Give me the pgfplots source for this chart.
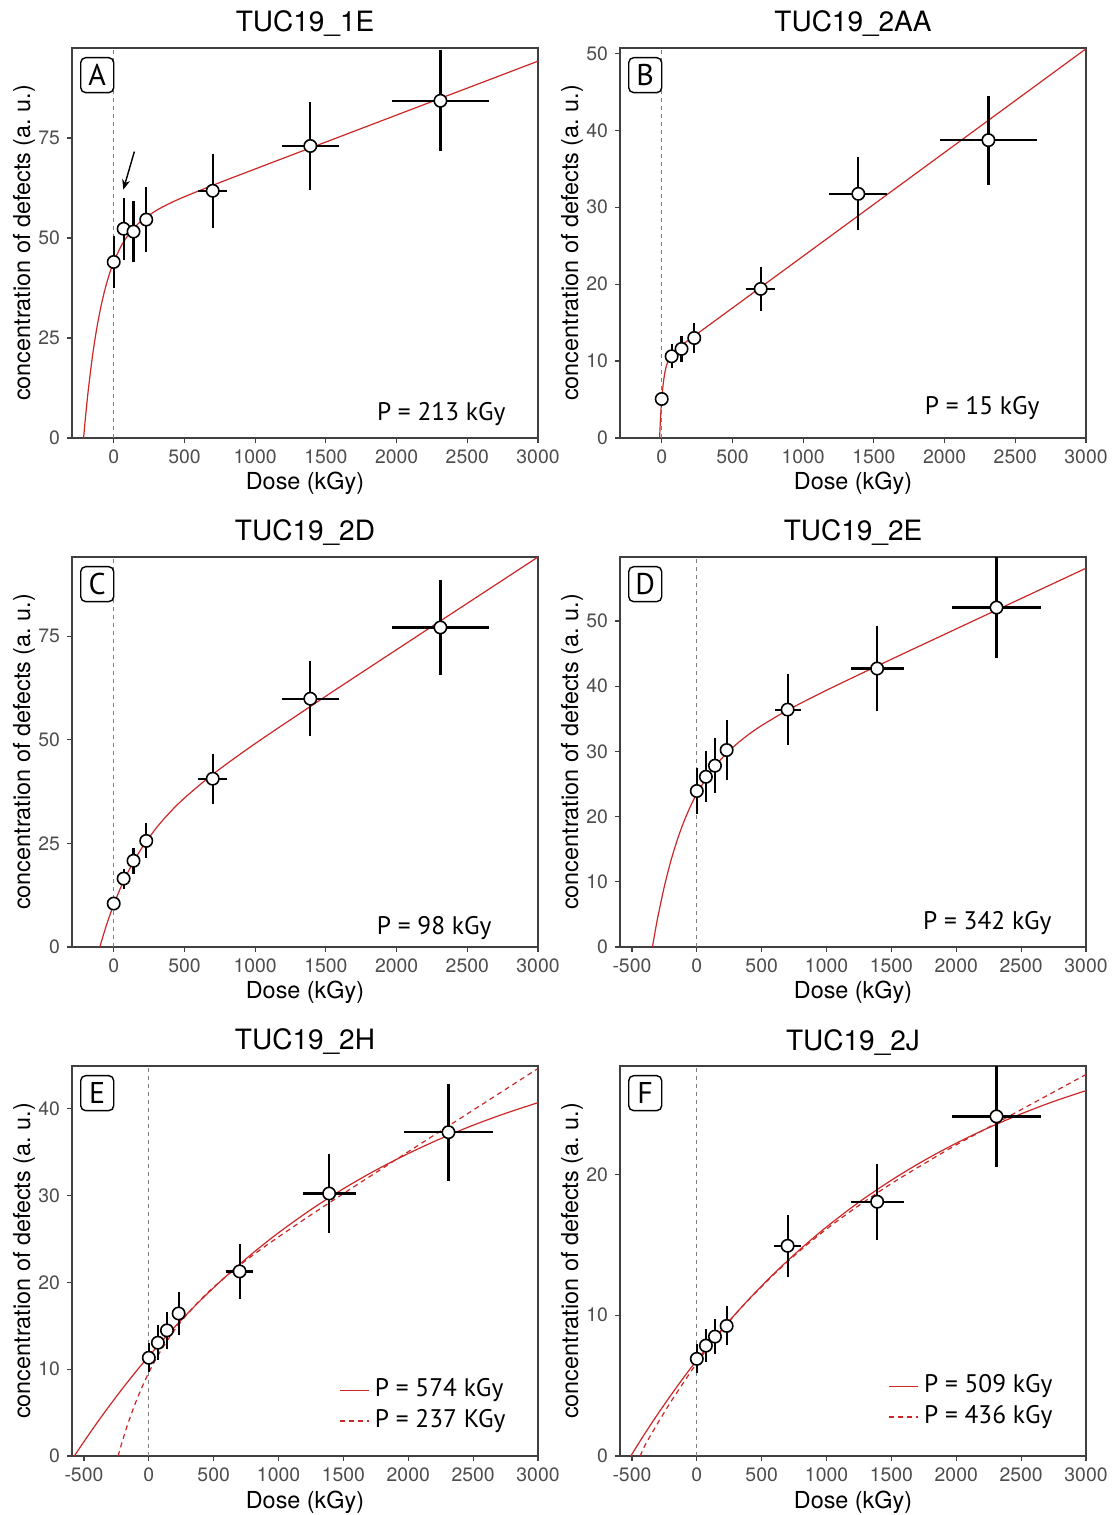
\documentclass[border=0pt]{standalone}
\usepackage{fontspec}
\setmainfont{TeX Gyre Heros}
\newfontfamily\myriad{PT Sans}
\usepackage{pgfplots}
\pgfplotsset{compat=1.18}
\usetikzlibrary{arrows.meta}
\definecolor{fitred}{RGB}{205,38,38}
\definecolor{axgray}{RGB}{77,77,77}
\tikzset{
  letter/.style={draw=black, line width=0.7pt, rounded corners=2.5pt,
    minimum width=16.5pt, minimum height=17.5pt, inner sep=0pt, anchor=north west,
    font=\myriad\fontsize{15}{15}\selectfont},
  ptext/.style={anchor=base east, inner sep=0pt, font=\myriad\fontsize{12.7}{13}\selectfont},
}
\pgfplotsset{
  panel/.style={
    scale only axis, width=233pt, height=195pt, anchor=south west,
    ymin=0, xmax=3000,
    axis line style={draw=black!75, line width=0.6pt},
    tick align=outside, tick pos=left, major tick length=2.5pt,
    tick style={draw=black!75, line width=0.6pt},
    ticklabel style={font=\fontsize{9.7}{10}\selectfont, text=axgray},
    /pgf/number format/assume math mode=true,
    /pgf/number format/1000 sep={},
    scaled ticks=false,
    xtick={-500,0,500,1000,1500,2000,2500,3000},
    title style={at={(axis description cs:0.5,1)}, anchor=base, yshift=2pt, font=\fontsize{14}{14}\selectfont},
    xlabel={Dose (kGy)},
    ylabel={concentration of defects (a.\ u.)},
    xlabel style={at={(axis description cs:0.5,0)}, anchor=base, yshift=-26pt, font=\fontsize{11.7}{12}\selectfont},
    ylabel style={at={(axis description cs:-0.09,0.5)}, anchor=base, font=\fontsize{11.7}{12}\selectfont},
  },
  fitc/.style={fitred, line width=0.6pt, smooth},
  fitd/.style={fitred, line width=0.6pt, smooth, dash pattern=on 2.5pt off 2pt},
  legc/.style={legend image code/.code={\draw[fitred, line width=0.6pt] (0pt,0pt) -- (14.5pt,0pt);}},
  legd/.style={legend image code/.code={\draw[fitred, line width=0.6pt, dash pattern=on 2.5pt off 2pt] (0pt,0pt) -- (14.5pt,0pt);}},
  pts/.style={only marks, mark=*, mark size=3.1pt,
    mark options={fill=white, draw=black, line width=0.8pt, solid},
    /pgfplots/error bars/x dir=both, /pgfplots/error bars/x explicit,
    /pgfplots/error bars/y dir=both, /pgfplots/error bars/y explicit,
    /pgfplots/error bars/error mark=none,
    /pgfplots/error bars/error bar style={line width=1.1pt, black}},
  zero/.style={gray, line width=0.4pt, dash pattern=on 2pt off 2pt},
  leg/.style={legend style={draw=none, fill=none, inner sep=0pt, row sep=3.3pt, column sep=2.5pt,
    font=\myriad\fontsize{12.7}{13}\selectfont,
    nodes={inner sep=0pt, text depth=2.9pt, text height=9.1pt},
    anchor=south east}, legend cell align=left},
}
\begin{document}
\begin{tikzpicture}
\path[use as bounding box] (0,0) rectangle (557.5pt,757.5pt);

% ---------- A ----------
\begin{axis}[panel, at={(36pt,538.5pt)}, title={TUC19\_1E}, xmin=-295, ymax=97.5, ytick={0,25,50,75}]
\addplot[zero, forget plot] coordinates {(0,0) (0,200)};
\addplot[fitc] coordinates {(-213,0) (-200,5.06) (-180,11.93) (-150,20.52) (-120,27.40) (-90,32.94) (-60,37.42) (-30,41.05) (0,44.01) (50,47.82) (100,50.62) (150,52.74) (200,54.40) (300,56.86) (400,58.73) (500,60.31) (700,63.17) (1000,67.25) (1500,73.99) (2000,80.73) (2500,87.47) (3000,94.21)};
\addplot[pts] table[x=x, y=y, x error=ex, y error=ey] {
x y ex ey
0 44.0 0 6.6
70 52.3 10 7.8
140 51.6 20 7.7
230 54.6 35 8.2
700 61.8 103 9.3
1390 73.0 203 11.0
2310 84.3 343 12.6
};
\draw[-{Stealth[length=5pt,width=4pt]}, line width=0.7pt] (axis cs:146,71.6) -- (axis cs:68,62.1);
\node[letter] at (rel axis cs:0.0172,0.977) {A};
\node[ptext] at (rel axis cs:0.931,0.045) {P = 213 kGy};
\end{axis}

% ---------- B ----------
\begin{axis}[panel, at={(310pt,538.5pt)}, title={TUC19\_2AA}, xmin=-295, ymax=50.7, ytick={0,10,20,30,40,50}]
\addplot[zero, forget plot] coordinates {(0,0) (0,200)};
\addplot[fitc] coordinates {(-15,0) (-10,2.02) (-5,3.66) (0,4.99) (10,6.95) (20,8.27) (30,9.17) (45,10.04) (60,10.59) (80,11.08) (100,11.44) (150,12.18) (200,12.86) (300,14.21) (500,16.90) (1000,23.64) (1500,30.38) (2000,37.12) (2500,43.86) (3000,50.60)};
\addplot[pts] table[x=x, y=y, x error=ex, y error=ey] {
x y ex ey
0 5.07 0 0.7
70 10.62 10 1.55
140 11.58 20 1.65
230 13.0 35 2.0
700 19.38 103 2.85
1390 31.74 205 4.75
2310 38.72 343 5.8
};
\node[letter] at (rel axis cs:0.0172,0.977) {B};
\node[ptext] at (rel axis cs:0.901,0.061) {P = 15 kGy};
\end{axis}

% ---------- C ----------
\begin{axis}[panel, at={(36pt,284pt)}, title={TUC19\_2D}, xmin=-295, ymax=94.1, ytick={0,25,50,75}]
\addplot[zero, forget plot] coordinates {(0,0) (0,200)};
\addplot[fitc] coordinates {(-98,0) (-80,2.13) (-60,4.35) (-40,6.44) (-20,8.40) (0,10.24) (50,14.40) (100,18.01) (150,21.17) (200,23.95) (300,28.68) (400,32.58) (500,35.93) (700,41.65) (1000,49.07) (1500,60.52) (2000,71.74) (2500,82.92) (3000,94.10)};
\addplot[pts] table[x=x, y=y, x error=ex, y error=ey] {
x y ex ey
0 10.48 0 1.0
70 16.5 10 2.4
140 20.8 20 3.1
230 25.6 35 4.2
700 40.6 103 6.05
1390 59.9 203 9.0
2310 77.1 343 11.5
};
\node[letter] at (rel axis cs:0.0172,0.977) {C};
\node[ptext] at (rel axis cs:0.901,0.032) {P = 98 kGy};
\end{axis}

% ---------- D ----------
\begin{axis}[panel, at={(310pt,284pt)}, title={TUC19\_2E}, xmin=-592, ymax=59.8, ytick={0,10,20,30,40,50}]
\addplot[zero, forget plot] coordinates {(0,0) (0,200)};
\addplot[fitc] coordinates {(-342,0) (-320,2.52) (-300,4.64) (-250,9.31) (-200,13.20) (-150,16.45) (-100,19.20) (-50,21.52) (0,23.50) (100,26.67) (200,29.08) (300,31.00) (400,32.59) (500,33.96) (700,36.31) (1000,39.37) (1500,44.12) (2000,48.78) (2500,53.43) (3000,58.08)};
\addplot[pts] table[x=x, y=y, x error=ex, y error=ey] {
x y ex ey
0 23.92 0 3.55
70 26.1 10 3.9
140 27.8 20 4.2
230 30.2 35 4.55
700 36.4 100 5.5
1390 42.7 205 6.5
2310 52.05 344 7.75
};
\node[letter] at (rel axis cs:0.0172,0.977) {D};
\node[ptext] at (rel axis cs:0.927,0.044) {P = 342 kGy};
\end{axis}

% ---------- E ----------
\begin{axis}[panel, leg, at={(36pt,29.5pt)}, title={TUC19\_2H}, xmin=-592, ymax=44.9, ytick={0,10,20,30,40},
  legend style={at={(axis description cs:0.931,0.058)}}]
\addplot[zero, forget plot] coordinates {(0,0) (0,200)};
\addplot[fitc, legc] coordinates {(-574,0) (-500,1.65) (-400,3.80) (-300,5.85) (-200,7.82) (-100,9.70) (0,11.49) (200,14.86) (400,17.94) (600,20.76) (800,23.34) (1000,25.70) (1250,28.37) (1500,30.77) (1750,32.91) (2000,34.82) (2250,36.54) (2500,38.08) (2750,39.45) (3000,40.68)};
\addlegendentry{P = 574 kGy}
\addplot[fitd, legd] coordinates {(-237,0) (-220,0.90) (-200,1.90) (-175,3.09) (-150,4.20) (-100,6.22) (-50,8.01) (0,9.60) (50,11.02) (100,12.31) (200,14.53) (300,16.40) (400,18.02) (500,19.45) (700,21.95) (900,24.18) (1200,27.26) (1500,30.21) (2000,35.03) (2500,39.82) (3000,44.61)};
\addlegendentry{P = 237 KGy}
\addplot[forget plot, pts] table[x=x, y=y, x error=ex, y error=ey] {
x y ex ey
0 11.31 0 1.65
70 13.04 10 2.0
140 14.46 20 2.13
230 16.41 35 2.44
700 21.25 103 3.13
1390 30.22 205 4.5
2310 37.28 345 5.6
};
\node[letter] at (rel axis cs:0.0172,0.977) {E};
\end{axis}

% ---------- F ----------
\begin{axis}[panel, leg, at={(310pt,29.5pt)}, title={TUC19\_2J}, xmin=-592, ymax=27.7, ytick={0,10,20},
  legend style={at={(axis description cs:0.929,0.068)}}]
\addplot[zero, forget plot] coordinates {(0,0) (0,200)};
\addplot[fitc, legc] coordinates {(-509,0) (-400,1.60) (-300,2.99) (-200,4.32) (-100,5.59) (0,6.80) (200,9.06) (400,11.12) (600,13.00) (800,14.71) (1000,16.27) (1250,18.03) (1500,19.59) (1750,20.98) (2000,22.22) (2250,23.32) (2500,24.30) (2750,25.18) (3000,25.95)};
\addlegendentry{P = 509 kGy}
\addplot[fitd, legd] coordinates {(-436,0) (-400,0.75) (-300,2.35) (-200,3.85) (-100,5.25) (0,6.6) (100,7.85) (200,9.0) (300,10.1) (400,11.1) (600,12.95) (800,14.62) (1000,16.12) (1250,17.8) (1500,19.35) (1750,20.75) (2000,22.1) (2250,23.35) (2500,24.6) (2750,25.85) (3000,27.1)};
\addlegendentry{P = 436 kGy}
\addplot[forget plot, pts] table[x=x, y=y, x error=ex, y error=ey] {
x y ex ey
0 6.90 0 1.03
70 7.84 10 1.15
140 8.48 20 1.25
230 9.24 35 1.39
700 14.93 103 2.2
1390 18.06 205 2.7
2310 24.12 345 3.6
};
\node[letter] at (rel axis cs:0.0172,0.977) {F};
\end{axis}
\end{tikzpicture}
\end{document}
